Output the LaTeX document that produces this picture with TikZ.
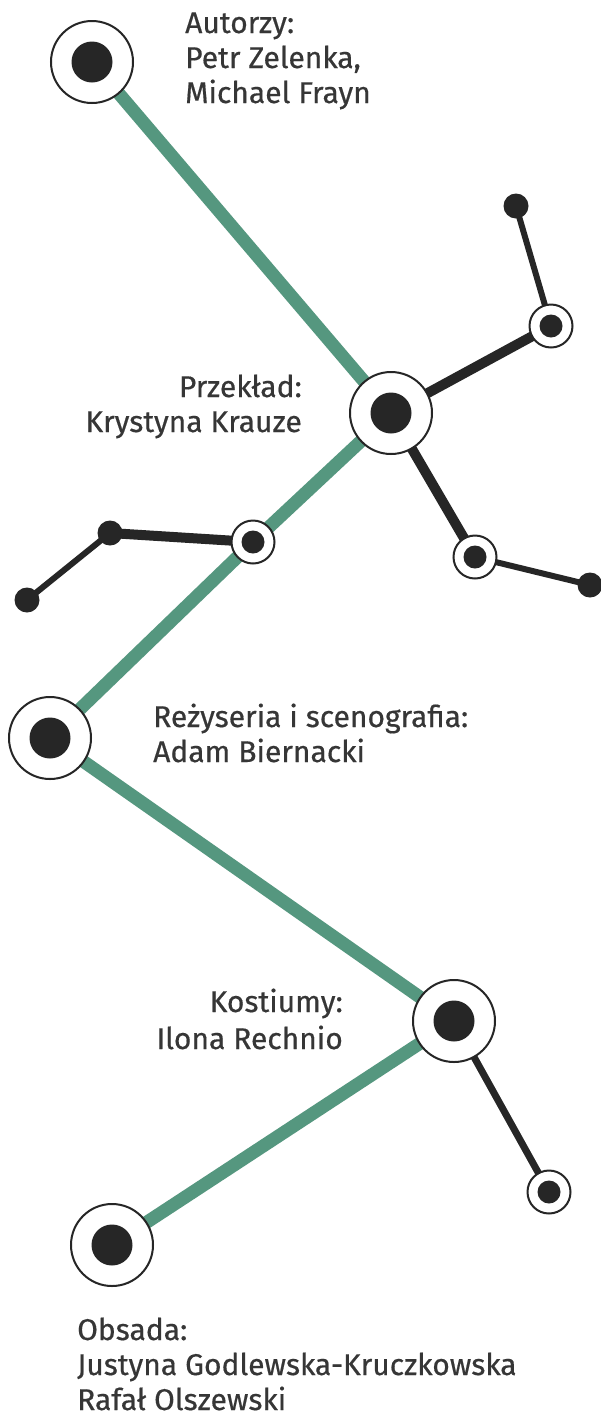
\documentclass[tikz,border=0pt]{standalone}
\usepackage{fontspec}
\setmainfont{Fira Sans}
\newfontfamily\lblfont{Fira Sans}[FakeBold=0.5]
\usetikzlibrary{backgrounds}
\definecolor{dark}{HTML}{262626}
\definecolor{teal}{HTML}{55977F}
\definecolor{txt}{HTML}{363636}
\begin{document}
\begin{tikzpicture}[x=1pt,y=-1pt,
  bigst/.style={circle,draw=dark,line width=2pt,fill=white,minimum size=82pt,inner sep=0pt,
    path picture={\fill[dark] (path picture bounding box.center) circle (20.5pt);}},
  smallst/.style={circle,draw=dark,line width=2pt,fill=white,minimum size=43pt,inner sep=0pt,
    path picture={\fill[dark] (path picture bounding box.center) circle (11.5pt);}},
  enddot/.style={circle,fill=dark,minimum size=25pt,inner sep=0pt},
  greenline/.style={teal,line width=13pt},
  thickline/.style={dark,line width=10pt},
  thinline/.style={dark,line width=6pt},
  lbl/.style={inner sep=0pt,text=txt,font=\lblfont\fontsize{30}{35}\selectfont},
]
\useasboundingbox (0,0) rectangle (600,1414);
% stations
\node[bigst] (A) at (92,62) {};
\node[bigst] (B) at (391,413) {};
\node[smallst] (B1) at (551,326) {};
\node[enddot] (B1a) at (516,206) {};
\node[smallst] (B2) at (475,557) {};
\node[enddot] (B2a) at (590,585) {};
\node[smallst] (C) at (253,542) {};
\node[enddot] (C1) at (110,533) {};
\node[enddot] (C2) at (27,600) {};
\node[bigst] (D) at (50,738) {};
\node[bigst] (E) at (454,1021) {};
\node[smallst] (E1) at (549,1192) {};
\node[bigst] (F) at (112,1245) {};
% connectors
\begin{scope}[on background layer]
\fill[white] (0,0) rectangle (600,1414);
\draw[greenline] (A.center) -- (B.center);
\draw[greenline] (B.center) -- (C.center);
\draw[greenline] (C.center) -- (D.center);
\draw[greenline] (D.center) -- (E.center);
\draw[greenline] (E.center) -- (F.center);
\draw[thickline] (B.center) -- (B1.center);
\draw[thinline] (B1.center) -- (B1a.center);
\draw[thickline] (B.center) -- (B2.center);
\draw[thinline] (B2.center) -- (B2a.center);
\draw[thickline] (C.center) -- (C1.center);
\draw[thinline] (C1.center) -- (C2.center);
\draw[dark,line width=7pt] (E.center) -- (E1.center);
\end{scope}
% labels
\node[lbl,anchor=base west] (tA) at (185,33) {\begin{tabular}[t]{@{}l@{}}Autorzy:\\Petr Zelenka,\\Michael Frayn\end{tabular}};
\node[lbl,anchor=base east] (tB) at (302,397) {\begin{tabular}[t]{@{}r@{}}Przekład:\\Krystyna Krauze\end{tabular}};
\node[lbl,anchor=base west] (tD) at (153,727) {\begin{tabular}[t]{@{}l@{}}Reżyseria i scenografia:\\Adam Biernacki\end{tabular}};
\node[lbl,anchor=base east] (tE) at (343,1012) {\begin{tabular}[t]{@{}r@{}}Kostiumy:\\[2pt]Ilona Rechnio\end{tabular}};
\node[lbl,anchor=base west] (tF) at (77,1340) {\begin{tabular}[t]{@{}l@{}}Obsada:\\Justyna Godlewska-Kruczkowska\\Rafał Olszewski\end{tabular}};
\end{tikzpicture}
\end{document}
